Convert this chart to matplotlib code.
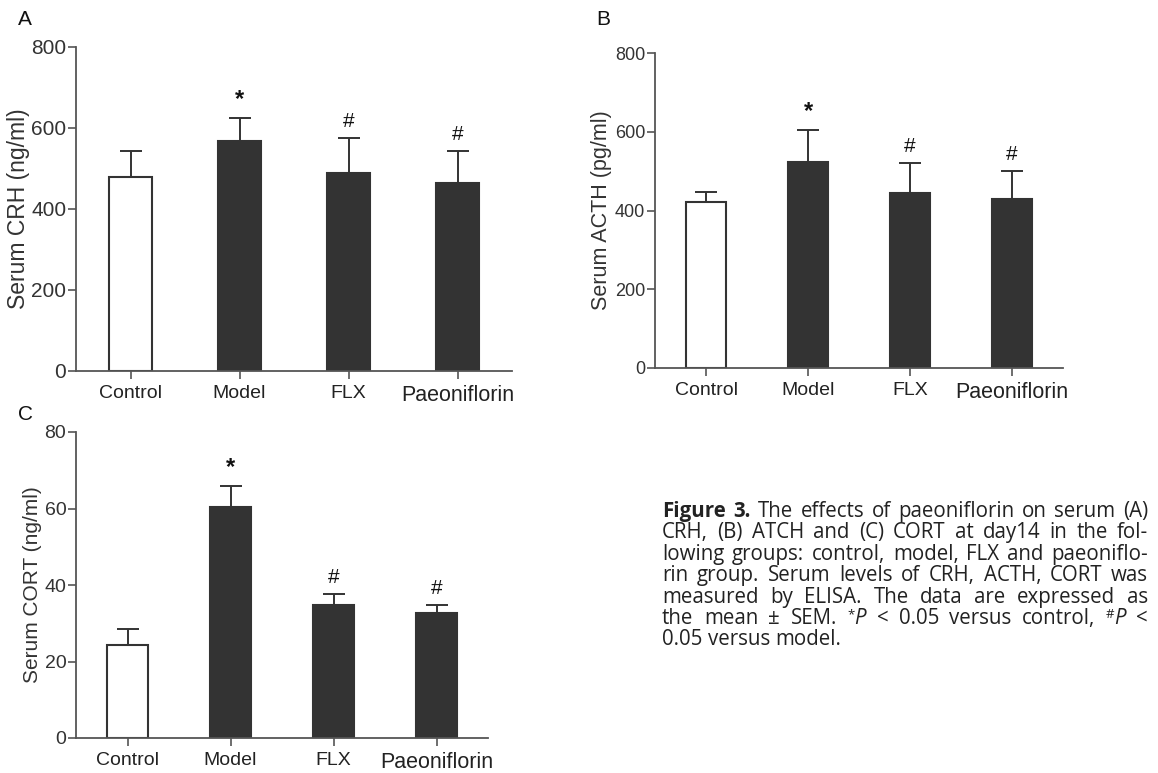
import matplotlib
matplotlib.use("Agg")
import matplotlib.pyplot as plt
import numpy as np

groups = ["Control", "Model", "FLX", "Paeoniflorin"]

crh_mean = [479, 568, 489, 464]
crh_err = [64, 57, 86, 79]
crh_marks = ["", "*", "#", "#"]

acth_mean = [421, 523, 445, 429]
acth_err = [26, 81, 75, 71]
acth_marks = ["", "*", "#", "#"]

cort_mean = [24.3, 60.3, 34.7, 32.6]
cort_err = [4.2, 5.5, 2.9, 2.1]
cort_marks = ["", "*", "#", "#"]

caption_lines = [
  "Figure 3. The effects of paeoniflorin on serum (A)",
  "CRH, (B) ATCH and (C) CORT at day14 in the fol-",
  "lowing groups: control, model, FLX and paeoniflo-",
  "rin group. Serum levels of CRH, ACTH, CORT was",
  "measured by ELISA. The data are expressed as",
  "the mean \u00b1 SEM. *P < 0.05 versus control, #P <",
  "0.05 versus model.",
]

W, H = 1158, 773
DARK = "#333333"
AXC = "#555555"
plt.rcParams["font.family"] = ["Liberation Sans", "DejaVu Sans"]

def fx(px):
  return px / W

def fy(py):
  return 1 - py / H

def bar_panel(fig, rect, means, errs, marks, ylim, yticks, ylabel, ylab_size, ytick_size, lpad):
  ax = fig.add_axes(rect)
  x = np.arange(len(groups))
  colors = ["white"] + [DARK] * (len(groups) - 1)
  ax.bar(x, means, width=0.4, color=colors, edgecolor=DARK, linewidth=1.5, zorder=2)
  ax.errorbar(x, means, yerr=[np.zeros(len(means)), errs], fmt="none",
              ecolor=DARK, elinewidth=1.4, capsize=8, capthick=1.4, zorder=1)
  for xi, m, e, s in zip(x, means, errs, marks):
    if s:
      ax.annotate(s, (xi, m + e), xytext=(0, 5), textcoords="offset points",
                  ha="center", va="bottom", fontsize=17 if s == "*" else 15,
                  color="#111111", fontweight="bold" if s == "*" else "normal")
  ax.set_xlim(-0.5, len(groups) - 0.5)
  ax.set_ylim(*ylim)
  ax.set_yticks(yticks)
  ax.set_xticks(x)
  ax.set_xticklabels(groups)
  for lab in ax.get_xticklabels():
    lab.set_fontsize(15.5 if lab.get_text() == "Paeoniflorin" else 14)
    lab.set_color("#222222")
  ax.tick_params(axis="y", labelsize=ytick_size, labelcolor="#333333", length=6, width=1.2, color=AXC, pad=1)
  ax.tick_params(axis="x", length=6, width=1.2, color=AXC, pad=4)
  for sp in ["top", "right"]:
    ax.spines[sp].set_visible(False)
  for sp in ["left", "bottom"]:
    ax.spines[sp].set_color(AXC)
    ax.spines[sp].set_linewidth(1.3)
  ax.set_ylabel(ylabel, fontsize=ylab_size, color="#333333", labelpad=lpad)
  ax.set_facecolor("none")
  return ax

def word_segments(word, bold):
  if bold:
    return [(word, {"fontweight": "bold"}, 0)]
  if len(word) > 1 and word[0] in "*#":
    return [(word[0], {"fontsize": 9.5}, 6), (word[1:], {"fontstyle": "italic"}, 0)]
  return [(word, {}, 0)]

def draw_caption(fig, lines, left, right, top, step, size):
  renderer = fig.canvas.get_renderer()
  base = {"fontsize": size, "color": "#222222", "family": ["Open Sans", "DejaVu Sans"]}
  t1 = fig.text(0, 0, "a b", **base)
  t2 = fig.text(0, 0, "ab", **base)
  space = t1.get_window_extent(renderer).width - t2.get_window_extent(renderer).width
  t1.remove()
  t2.remove()
  for i, line in enumerate(lines):
    words = line.split(" ")
    y = top + i * step
    items = []
    for j, w in enumerate(words):
      segs = []
      bold = (i == 0 and j < 2)
      for s, kw, dy in word_segments(w, bold):
        opts = dict(base)
        opts.update(kw)
        t = fig.text(0, 0, s, va="baseline", ha="left", **opts)
        wpx = t.get_window_extent(renderer).width
        segs.append((t, wpx, dy))
      items.append(segs)
    widths = [sum(s[1] for s in segs) for segs in items]
    if i < len(lines) - 1 and len(items) > 1:
      gap = (right - left - sum(widths)) / (len(items) - 1)
    else:
      gap = space
    xp = left
    for segs, wd in zip(items, widths):
      xs = xp
      for t, wpx, dy in segs:
        t.set_position((fx(xs), fy(y - dy)))
        xs += wpx
      xp += wd + gap

def main():
  fig = plt.figure(figsize=(W / 100, H / 100), dpi=100)
  fig.patch.set_facecolor("white")

  bar_panel(fig, [fx(76), fy(371), fx(436), (371 - 47) / H], crh_mean, crh_err, crh_marks,
            (0, 800), [0, 200, 400, 600, 800], "Serum CRH (ng/ml)", 16.5, 15, 1)
  bar_panel(fig, [fx(655), fy(368), fx(408), (368 - 53) / H], acth_mean, acth_err, acth_marks,
            (0, 800), [0, 200, 400, 600, 800], "Serum ACTH (pg/ml)", 15.5, 13, 2)
  bar_panel(fig, [fx(76), fy(738), fx(412), (738 - 432) / H], cort_mean, cort_err, cort_marks,
            (0, 80), [0, 20, 40, 60, 80], "Serum CORT (ng/ml)", 15, 14, 2)

  fig.text(fx(18), fy(25), "A", fontsize=15, color="#111111")
  fig.text(fx(596), fy(25), "B", fontsize=15, color="#111111")
  fig.text(fx(18), fy(420), "C", fontsize=15, color="#111111")

  draw_caption(fig, caption_lines, 662, 1148, 517, 21.4, 14.8)

  fig.savefig("out.png", dpi=100, facecolor="white")

if __name__ == "__main__":
  main()
